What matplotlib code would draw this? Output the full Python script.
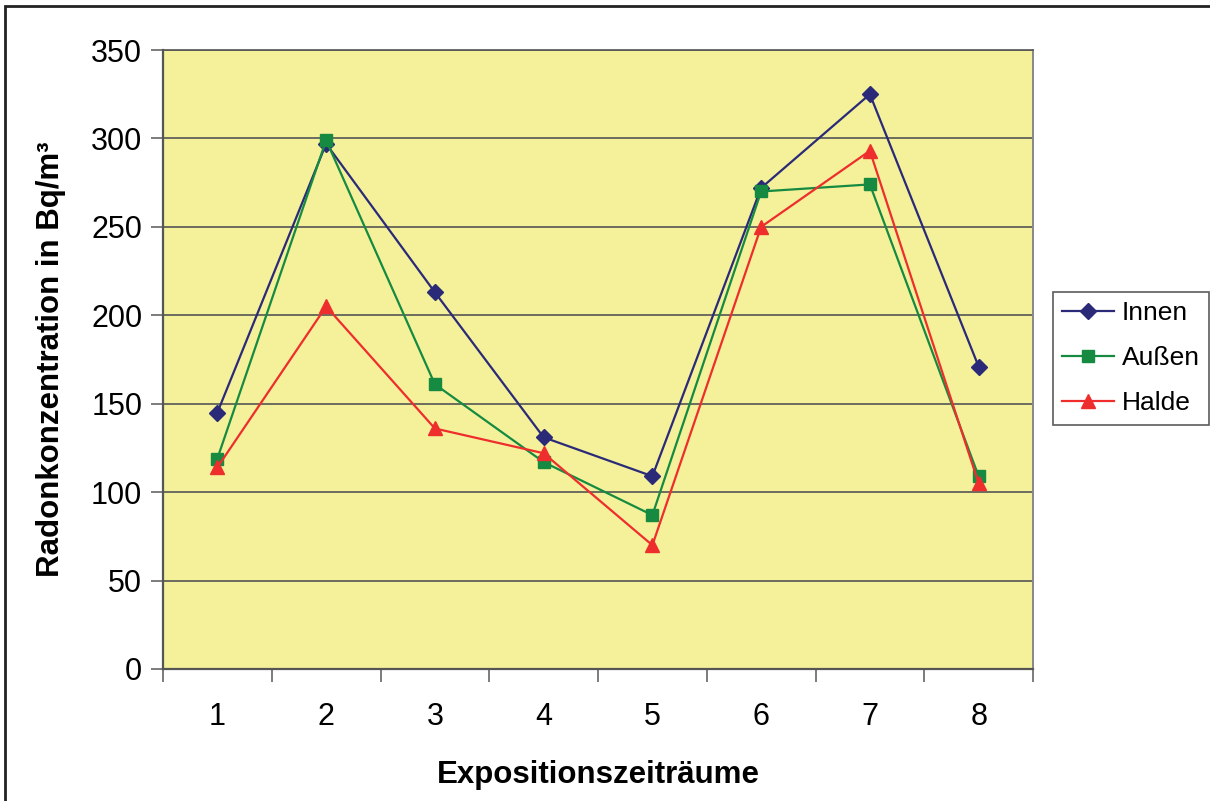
import matplotlib
matplotlib.use("Agg")
import matplotlib.pyplot as plt
from matplotlib.patches import Rectangle
from matplotlib.ticker import FixedLocator

plt.rcParams["font.family"] = ["Liberation Sans", "DejaVu Sans"]

periods = ["1", "2", "3", "4", "5", "6", "7", "8"]
innen = [145, 297, 213, 131, 109, 272, 325, 171]
aussen = [119, 299, 161, 117, 87, 270, 274, 109]
halde = [114, 205, 136, 122, 70, 250, 293, 105]

BG = "#F4F19A"
GRID_C = "#555555"
INNEN_C = "#2B2A78"
AUSSEN_C = "#178A42"
HALDE_C = "#EE2D2D"

fig = plt.figure(figsize=(12.1, 8.01), dpi=100)
ax = fig.add_axes([163 / 1210, 132 / 801, 870 / 1210, 619 / 801])
ax.set_facecolor(BG)

x = list(range(1, len(periods) + 1))
ax.plot(x, innen, "-D", color=INNEN_C, lw=1.6, ms=8, label="Innen")
ax.plot(x, aussen, "-s", color=AUSSEN_C, lw=1.6, ms=8.5, label="Außen")
ax.plot(x, halde, "-^", color=HALDE_C, lw=1.6, ms=10, label="Halde")

ax.set_xlim(0.5, len(periods) + 0.5)
ax.set_ylim(0, 350)
ax.set_yticks(range(0, 351, 50))
ax.set_xticks(x)
ax.set_xticklabels(periods)
ax.xaxis.set_minor_locator(FixedLocator([i + 0.5 for i in range(len(periods) + 1)]))
ax.grid(axis="y", color=GRID_C, lw=1.2)
ax.set_axisbelow(True)

ax.tick_params(axis="x", which="major", length=0, labelsize=22, pad=24)
ax.tick_params(axis="x", which="minor", length=9, width=1.2, color="#666666", direction="out")
ax.tick_params(axis="y", length=9, width=1.2, color="#666666", labelsize=22, pad=6)

for side in ["left", "bottom"]:
    ax.spines[side].set_color(GRID_C)
    ax.spines[side].set_linewidth(1.6)
ax.spines["right"].set_color("#888888")
ax.spines["right"].set_linewidth(1.4)
ax.spines["top"].set_color(GRID_C)
ax.spines["top"].set_linewidth(1.2)

ax.set_xlabel("Expositionszeiträume", fontsize=22.5, fontweight="bold", labelpad=20)
ax.set_ylabel("Radonkonzentration in Bq/m³", fontsize=22.5, fontweight="bold", labelpad=18)

leg = ax.legend(loc="upper left", bbox_to_anchor=(1053 / 1210, 1 - 292 / 801),
                bbox_transform=fig.transFigure, borderaxespad=0, fontsize=19,
                frameon=True, fancybox=False, edgecolor="#333333",
                handlelength=1.95, borderpad=0.35, labelspacing=0.8,
                handletextpad=0.3)
leg.get_frame().set_linewidth(1.2)

# outer chart frame (only top and left edges visible)
fig.patches.append(Rectangle((5 / 1210, -0.05), 1.2, 0.05 + 795 / 801,
                             transform=fig.transFigure, fill=False,
                             edgecolor="#222222", lw=2))

fig.savefig("out.png", dpi=100, facecolor="white")
